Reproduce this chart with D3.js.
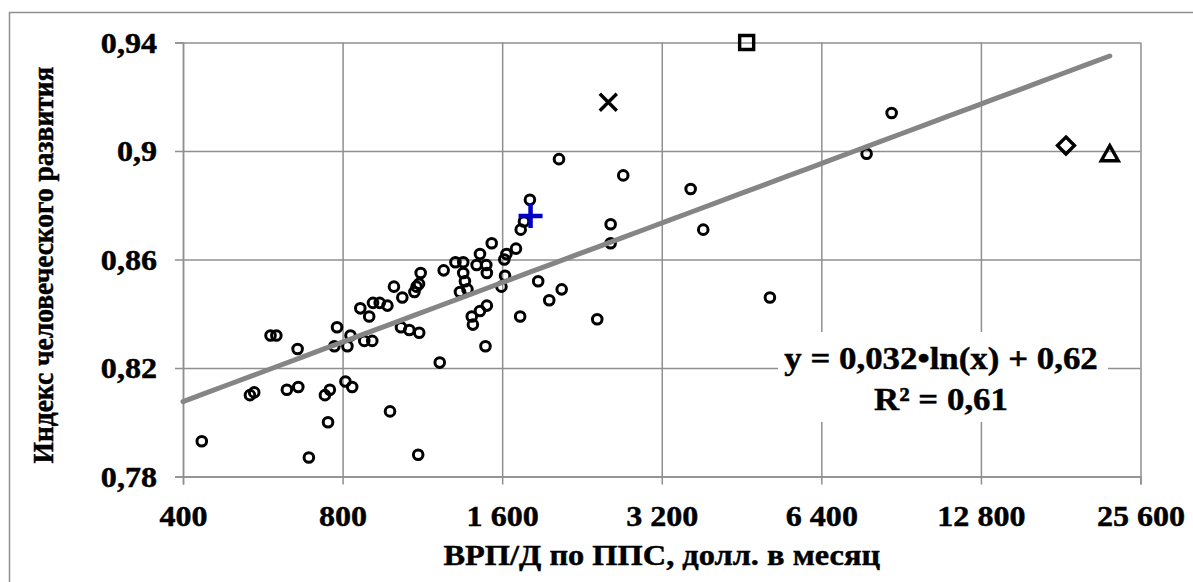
<!DOCTYPE html>
<html>
<head>
<meta charset="utf-8">
<script src="https://cdn.jsdelivr.net/npm/d3@7/dist/d3.min.js"></script>
<style>
  html, body { margin: 0; padding: 0; background: #fff; }
  svg { display: block; }
  text { font-family: "Liberation Serif", "Times New Roman", serif; font-weight: bold; fill: #000;
         stroke: #000; stroke-width: 0.45px; }
</style>
</head>
<body>
<svg id="chart" width="1193" height="582"></svg>
<script>
// ---------------- data ----------------
const xTicks = [400, 800, 1600, 3200, 6400, 12800, 25600];
const xTickLabels = ["400", "800", "1 600", "3 200", "6 400", "12 800", "25 600"];
const yTicks = [0.78, 0.82, 0.86, 0.90, 0.94];
const yTickLabels = ["0,78", "0,82", "0,86", "0,9", "0,94"];

const xTitle = "ВРП/Д по ППС, долл. в месяц";
const yTitle = "Индекс человеческого развития";
const equationLines = ["y = 0,032•ln(x) + 0,62", "R² = 0,61"];

// regions (circles)
const regionX = [434, 585, 600, 658, 535, 545, 628, 660, 741, 757, 751, 691, 781, 772, 817, 828, 810, 834,
  864, 898, 913, 940, 972, 879, 910, 1000, 1037, 1093, 1103, 1115, 1123, 1241, 1031, 1069, 1116, 983, 1111,
  1220, 1306, 1351, 1351, 1361, 1332, 1376, 1453, 1432, 1493, 1497, 1402, 1409, 1453, 1497, 1488, 1595,
  1620, 1615, 1630, 1699, 1529, 1734, 1759, 1805, 1871, 2072, 1963, 1730, 2418, 2048, 2707, 3628, 2563,
  2563, 3832, 5119, 8685, 7791];
const regionY = [0.793, 0.832, 0.832, 0.827, 0.810, 0.811, 0.812, 0.813, 0.810, 0.812, 0.800, 0.787, 0.835,
  0.828, 0.828, 0.832, 0.815, 0.813, 0.842, 0.839, 0.844, 0.844, 0.843, 0.830, 0.830, 0.850, 0.846, 0.848,
  0.850, 0.851, 0.855, 0.856, 0.835, 0.834, 0.833, 0.804, 0.788, 0.822, 0.859, 0.859, 0.855, 0.852, 0.848,
  0.849, 0.862, 0.858, 0.858, 0.855, 0.839, 0.836, 0.841, 0.843, 0.828, 0.850, 0.854, 0.860, 0.862, 0.864,
  0.866, 0.871, 0.874, 0.882, 0.852, 0.849, 0.845, 0.839, 0.838, 0.897, 0.891, 0.886, 0.873, 0.866, 0.871,
  0.846, 0.914, 0.899];

// highlighted marks
const markX = [4627, 2537, 1810, 18520, 22400];
const markY = [0.940, 0.918, 0.876, 0.902, 0.899];
const markType = ["square", "cross", "plus", "diamond", "triangle"];

// drawn trend line  y = a*ln(x) + b
const trendA = 0.03165;
const trendB = 0.618;
const trendRange = [400, 22400];

// ---------------- layout ----------------
const svg = d3.select("#chart");
const L = 183, R = 1140.5, T = 42.5, B = 476.5;
const x = d3.scaleLog().base(2).domain([400, 25600]).range([L, R]);
const y = d3.scaleLinear().domain([0.78, 0.94]).range([B, T]);
const gridColor = "#8f8f8f";
const SX = 1.07; // horizontal stretch of text

// outer frame
svg.append("rect").attr("x", 9.5).attr("y", 12.5).attr("width", 1300).attr("height", 700)
  .attr("fill", "none").attr("stroke", gridColor).attr("stroke-width", 1.5);

// grid
const gx = svg.append("g").attr("transform", `translate(0,${B})`)
  .call(d3.axisBottom(x).tickValues(xTicks).tickSize(-(B - T)).tickFormat(""));
const gy = svg.append("g").attr("transform", `translate(${L},0)`)
  .call(d3.axisLeft(y).tickValues(yTicks).tickSize(-(R - L)).tickFormat(""));
[gx, gy].forEach(g => {
  g.select(".domain").remove();
  g.selectAll("line").attr("stroke", gridColor).attr("stroke-width", 1.5);
});

// axes with outward ticks and labels
const ax = svg.append("g").attr("transform", `translate(0,${B})`)
  .call(d3.axisBottom(x).tickValues(xTicks).tickSize(8).tickPadding(20)
    .tickFormat((d, i) => xTickLabels[i]));
const ay = svg.append("g").attr("transform", `translate(${L},0)`)
  .call(d3.axisLeft(y).tickValues(yTicks).tickSize(8).tickPadding(18)
    .tickFormat((d, i) => yTickLabels[i]));
[ax, ay].forEach(g => {
  g.select(".domain").attr("stroke", gridColor).attr("stroke-width", 1.5);
  g.selectAll("line").attr("stroke", gridColor).attr("stroke-width", 1.5);
  g.selectAll("text").attr("font-family", null).attr("font-size", null)
    .style("font-size", "30px").attr("fill", "#000")
    .attr("transform", `scale(${SX},1)`);
});
ay.selectAll("text").attr("x", -26 / SX);

// equation box (hides grid)
svg.append("rect").attr("x", 778).attr("y", 332).attr("width", 330).attr("height", 90).attr("fill", "#fff");

// region circles
svg.append("g").selectAll("circle").data(regionX).join("circle")
  .attr("cx", (d, i) => x(d)).attr("cy", (d, i) => y(regionY[i]))
  .attr("r", 4.8).attr("fill", "none").attr("stroke", "#000").attr("stroke-width", 3);

// trend line
const tSamples = d3.range(0, 41).map(k => trendRange[0] * Math.pow(trendRange[1] / trendRange[0], k / 40));
svg.append("path").datum(tSamples)
  .attr("d", d3.line().x(d => x(d)).y(d => y(trendA * Math.log(d) + trendB)))
  .attr("fill", "none").attr("stroke", "#858585").attr("stroke-width", 5).attr("stroke-linecap", "round");

// highlighted marks
const markPaths = {
  square: "M-7,-7H7V7H-7Z",
  cross: "M-8.5,-8.5L8.5,8.5M8.5,-8.5L-8.5,8.5",
  plus: "M-12,0H12M0,-12V12",
  diamond: "M0,-8.5L8.5,0L0,8.5L-8.5,0Z",
  triangle: "M0,-8L8.5,7H-8.5Z"
};
svg.append("g").selectAll("path").data(markX).join("path")
  .attr("transform", (d, i) => `translate(${x(d)},${y(markY[i])})`)
  .attr("d", (d, i) => markPaths[markType[i]])
  .attr("fill", "none")
  .attr("stroke", (d, i) => markType[i] === "plus" ? "#0000c8" : "#000")
  .attr("stroke-width", (d, i) => markType[i] === "plus" ? 4.5 : 3.4)
  .attr("stroke-linejoin", "miter");

// equation text
svg.append("g").attr("transform", `translate(941,0) scale(1.09,1)`)
  .selectAll("text").data(equationLines).join("text")
  .attr("x", 0).attr("y", (d, i) => 369 + i * 41)
  .attr("text-anchor", "middle").style("font-size", "32px")
  .text(d => d);

// axis titles
svg.append("text").attr("transform", `translate(${(L + R) / 2},565) scale(1.08,1)`)
  .attr("text-anchor", "middle").style("font-size", "30px").text(xTitle);
svg.append("text").attr("transform", `translate(53,265) scale(1.08,1) rotate(-90)`)
  .attr("text-anchor", "middle").style("font-size", "27.5px").text(yTitle);
</script>
</body>
</html>
